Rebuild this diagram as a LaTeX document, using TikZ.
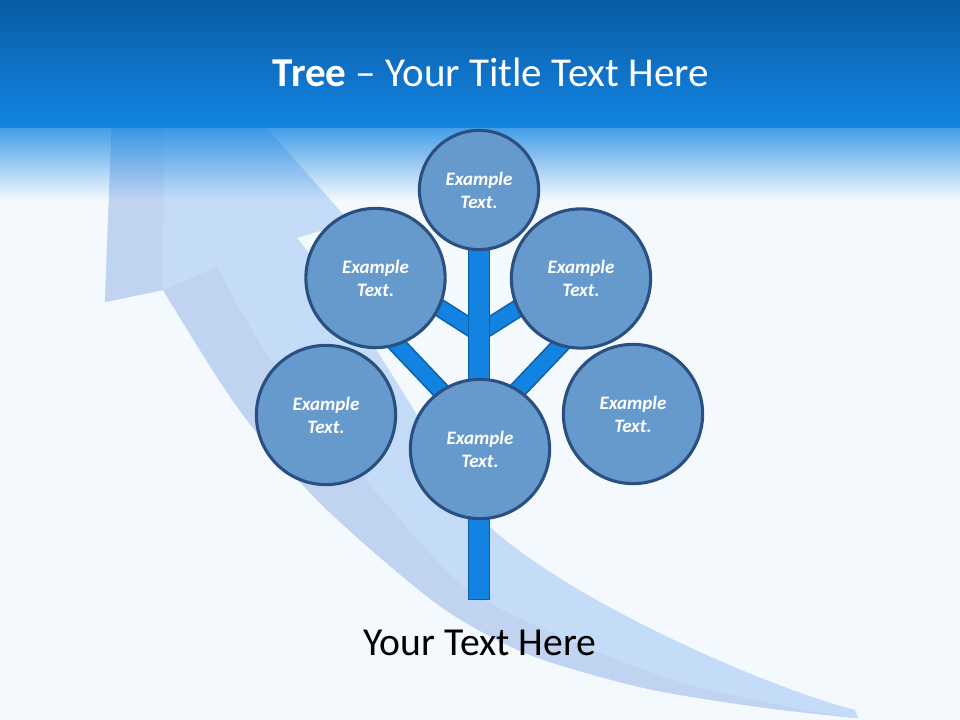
\documentclass[tikz,border=0pt]{standalone}
\usepackage{fontspec}
\setmainfont{Carlito}
\usetikzlibrary{fadings,calc}
\definecolor{pagebg}{HTML}{F4F9FE}
\definecolor{hdrtop}{HTML}{0A5CA6}
\definecolor{hdrbot}{HTML}{1384E1}
\definecolor{arrlight}{HTML}{C5DCF8}
\definecolor{arrdark}{HTML}{C0D4F1}
\definecolor{circfill}{HTML}{6699CC}
\definecolor{circline}{HTML}{2A5082}
\definecolor{trunkfill}{HTML}{1283E0}
\definecolor{trunkline}{HTML}{0B5EA8}
\tikzfading[name=hdrfade, top color=transparent!22, bottom color=transparent!100]
\pgfdeclarelayer{back}
\pgfdeclarelayer{mid}
\pgfsetlayers{back,mid,main}
\begin{document}
\begin{tikzpicture}[x=0.025cm,y=-0.025cm]
\tikzstyle{bubble}=[circle, draw=circline, line width=2.2pt, fill=circfill, minimum size=3.48cm, inner sep=0pt, text=white, align=center, font=\fontsize{13.5}{16.4}\selectfont\bfseries\itshape]
\tikzstyle{bubbletop}=[bubble, minimum size=2.98cm]
\tikzstyle{stem}=[draw=trunkline, line width=1.1pt, double=trunkfill, double distance=0.48cm, line cap=rect]
\tikzstyle{twig}=[draw=trunkline, line width=1.1pt, double=trunkfill, double distance=0.38cm]
\useasboundingbox (0,0) rectangle (960,720);
\node (c1) [bubbletop] at (479,190) {Example\\Text.};
\node (c2) [bubble] at (375.5,278) {Example\\Text.};
\node (c3) [bubble] at (581,278.5) {Example\\Text.};
\node (c4) [bubble] at (326,415) {Example\\Text.};
\node (c5) [bubble] at (633,414) {Example\\Text.};
\node (c6) [bubble] at (480,449) {Example\\Text.};
\coordinate (root) at (479,589);
\coordinate (j1) at (479,333);
\coordinate (j2) at (479,431);
\node (title) [anchor=base, text=white, font=\fontsize{29.2}{34}\selectfont] at (491,87) {\textbf{Tree} -- Your Title Text Here};
\node (caption) [anchor=base, font=\fontsize{28.2}{32}\selectfont] at (480,655) {Your Text Here};
\begin{pgfonlayer}{mid}
\draw[twig] (j1) -- ($(c2)+(0,-11)$);
\draw[twig] (j1) -- ($(c3)+(0,-10)$);
\draw[twig] (j2) -- ($(c2)+(0,44)$);
\draw[twig] (j2) -- ($(c3)+(0,45)$);
\draw[stem] (c1.center) -- (root);
\end{pgfonlayer}
\begin{pgfonlayer}{back}
\fill[pagebg] (0,0) rectangle (960,720);
\begin{scope}
\clip (0,0) rectangle (960,720);
\fill[arrlight] (118,-40) -- (350,222) -- (297,238) .. controls (380,340) and (450,480) .. (490,527) .. controls (570,600) and (760,685) .. (855,710) -- (858,718) -- plot[smooth] coordinates {(855,718) (759,707) (644,688) (530,655) (450,613) (383,560) (317,500) (257,433) (217,377) (163,290)} -- (105,302) -- cycle;
\fill[arrdark] plot[smooth] coordinates {(163,290) (217,377) (257,433) (317,500) (383,560) (450,613) (530,655) (644,688) (759,707) (855,718)} -- plot[smooth] coordinates {(809,711) (683,683) (568,640) (475,595) (427,550) (383,500) (337,447) (290,387) (250,327) (217,267)} -- cycle;
\fill[arrdark] (105,302) -- (163,290) -- (165,16) -- (118,-40) -- cycle;
\end{scope}
\shade[top color=hdrtop, bottom color=hdrbot] (0,0) rectangle (960,128);
\fill[hdrbot, path fading=hdrfade] (0,128) rectangle (960,200);
\end{pgfonlayer}
\end{tikzpicture}
\end{document}
